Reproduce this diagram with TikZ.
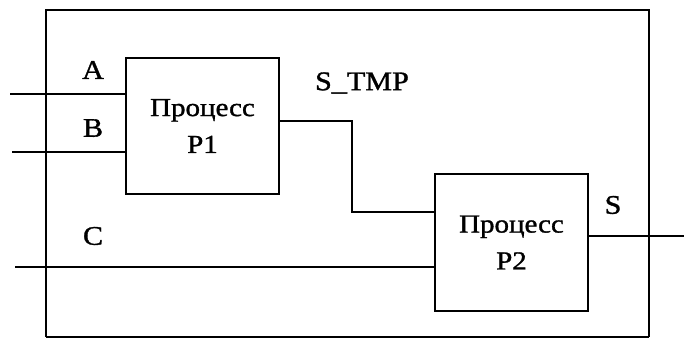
\documentclass[tikz,border=0pt]{standalone}
\usepackage{fontspec}
\setmainfont{Liberation Serif}[FakeStretch=1.12,FakeBold=1.2]
\begin{document}
\begin{tikzpicture}[x=1bp,y=-1bp,
  wire/.style={line width=2bp},
  procbox/.style={draw,line width=2bp,minimum width=153bp,minimum height=136bp,inner sep=0pt,align=center,font=\fontsize{26}{37}\selectfont},
  lbl/.style={font=\fontsize{27}{30}\selectfont,inner sep=0pt}]
\useasboundingbox (0,0) rectangle (684,340);
% outer boundary
\draw[line width=2bp] (46,337) -- (46,10) -- (649,10) -- (649,337);
\draw[line width=1.2bp] (46,337) -- (649,337);
% processes
\node[procbox] (p1) at (202.5,126) {Процесс\\P1};
\node[procbox,minimum height=137bp] (p2) at (511.5,242.5) {Процесс\\P2};
% free ends
\coordinate (ina) at (10,94);
\coordinate (inb) at (12,152);
\coordinate (inc) at (15,267);
\coordinate (outs) at (684,236);
\coordinate (bend1) at (352,121);
\coordinate (bend2) at (352,212);
% connectors
\draw[wire] (ina) -- (ina -| p1.west);
\draw[wire] (inb) -- (inb -| p1.west);
\draw[wire] (inc) -- (inc -| p2.west);
\draw[wire] (bend1 -| p1.east) -- (bend1) -- (bend2) -- (bend2 -| p2.west);
\draw[wire] (outs -| p2.east) -- (outs);
% labels
\node[lbl] (la) at (93,70) {A};
\node[lbl] (lb) at (93,128) {B};
\node[lbl] (lc) at (93,236) {C};
\node[lbl] (lstmp) at (362,83) {S\_TMP};
\node[lbl] (ls) at (613,205) {S};
\end{tikzpicture}
\end{document}
